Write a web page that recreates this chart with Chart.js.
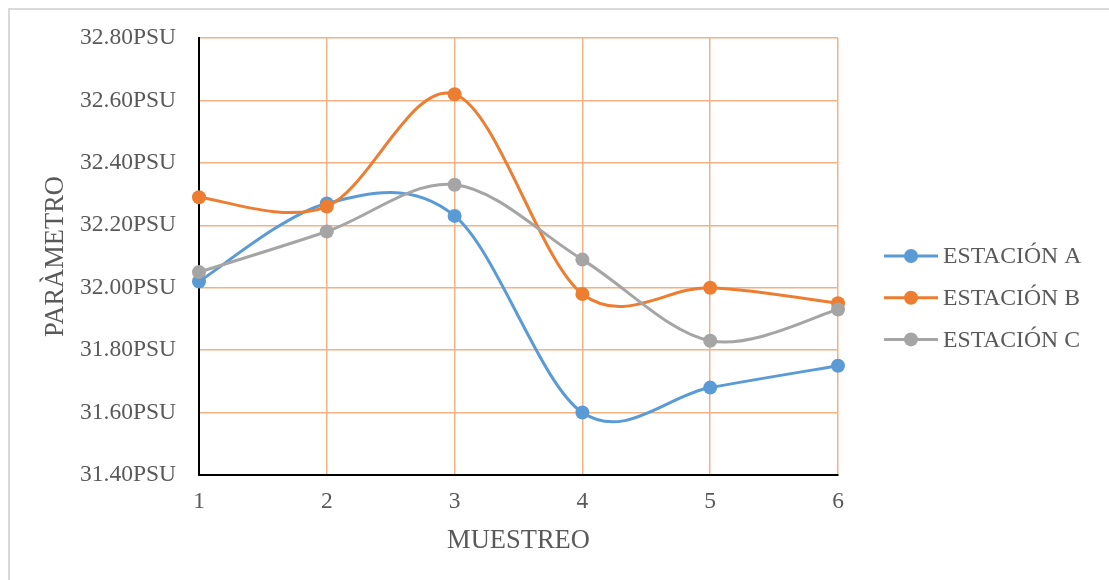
<!DOCTYPE html>
<html>
<head>
<meta charset="utf-8">
<script src="https://cdn.jsdelivr.net/npm/chart.js@4/dist/chart.umd.min.js"></script>
<style>
  html, body { margin: 0; padding: 0; background: #ffffff; }
  #wrap { width: 1109px; height: 580px; position: relative; }
</style>
</head>
<body>
<div id="wrap"><canvas id="c"></canvas></div>
<script>
// Sampling rounds (x axis)
const muestreos = [1, 2, 3, 4, 5, 6];

// Salinity per station, PSU
const estacionA = [32.02, 32.27, 32.23, 31.60, 31.68, 31.75];
const estacionB = [32.29, 32.26, 32.62, 31.98, 32.00, 31.95];
const estacionC = [32.05, 32.18, 32.33, 32.09, 31.83, 31.93];

const seriesNames = ['ESTACIÓN A', 'ESTACIÓN B', 'ESTACIÓN C'];
const seriesColors = ['#5B9BD5', '#ED7D31', '#A5A5A5'];

// Value axis tick labels
const yTicks = [31.40, 31.60, 31.80, 32.00, 32.20, 32.40, 32.60, 32.80];

const FONT = "'Liberation Serif', 'Times New Roman', serif";
const TEXT = '#595959';
const GRID = '#F4B183';

const toPoints = vals => muestreos.map((m, i) => ({ x: m, y: vals[i] }));

const makeSet = (label, vals, color, order) => ({
  label,
  data: toPoints(vals),
  borderColor: color,
  backgroundColor: color,
  borderWidth: 3,
  pointRadius: 7,
  pointHoverRadius: 7,
  pointBorderWidth: 0,
  tension: 0.4,
  fill: false,
  clip: false,
  order
});

// Spreadsheet-style smoothing: each point's Bezier handles run parallel to
// the chord between its neighbours, at one sixth of that chord.
const uniformSmooth = {
  id: 'uniformSmooth',
  beforeDatasetDraw(chart, args) {
    const line = args.meta.dataset;
    if (!line) return;
    line.updateControlPoints(chart.chartArea, 'x');
    const pts = line.points;
    const n = pts.length;
    pts.forEach((p, i) => {
      const prev = pts[Math.max(i - 1, 0)];
      const next = pts[Math.min(i + 1, n - 1)];
      const dx = (next.x - prev.x) / 6;
      const dy = (next.y - prev.y) / 6;
      p.cp1x = p.x - dx; p.cp1y = p.y - dy;
      p.cp2x = p.x + dx; p.cp2y = p.y + dy;
    });
    line._path = undefined;
  }
};

// Right-hand legend: line segment with a marker, then the series name
const sideLegend = {
  id: 'sideLegend',
  afterDraw(chart) {
    const { ctx, chartArea } = chart;
    const lineStart = chartArea.right + 46;
    const lineEnd = lineStart + 54;
    ctx.save();
    chart.data.datasets.forEach((ds, i) => {
      const y = 256 + i * 41.7;
      ctx.strokeStyle = ds.borderColor;
      ctx.lineWidth = 3;
      ctx.beginPath();
      ctx.moveTo(lineStart, y);
      ctx.lineTo(lineEnd, y);
      ctx.stroke();
      ctx.fillStyle = ds.borderColor;
      ctx.beginPath();
      ctx.arc((lineStart + lineEnd) / 2, y, 7, 0, Math.PI * 2);
      ctx.fill();
      ctx.fillStyle = TEXT;
      ctx.font = '23.7px ' + FONT;
      ctx.textAlign = 'left';
      ctx.textBaseline = 'middle';
      ctx.fillText(ds.label, lineEnd + 5, y + 1);
    });
    ctx.restore();
  }
};

// Outer frame of the chart object
const frame = {
  id: 'frame',
  beforeDraw(chart) {
    const { ctx } = chart;
    ctx.save();
    ctx.fillStyle = '#ffffff';
    ctx.fillRect(0, 0, chart.width, chart.height);
    ctx.strokeStyle = '#D9D9D9';
    ctx.lineWidth = 2;
    ctx.strokeRect(9, 9, chart.width + 20, chart.height + 20);
    ctx.restore();
  }
};

new Chart(document.getElementById('c'), {
  type: 'line',
  data: {
    datasets: [
      makeSet(seriesNames[0], estacionA, seriesColors[0], 3),
      makeSet(seriesNames[1], estacionB, seriesColors[1], 2),
      makeSet(seriesNames[2], estacionC, seriesColors[2], 1)
    ]
  },
  options: {
    responsive: true,
    maintainAspectRatio: false,
    animation: false,
    layout: { padding: { left: 0, right: 271, top: 38, bottom: 0 } },
    plugins: {
      legend: { display: false },
      tooltip: { enabled: false }
    },
    scales: {
      x: {
        type: 'linear',
        min: 1,
        max: 6,
        afterBuildTicks: s => { s.ticks = muestreos.map(v => ({ value: v })); },
        afterFit: s => { s.height = 105; },
        grid: {
          drawTicks: false,
          lineWidth: 1.5,
          color: c => (c.tick && c.tick.value === muestreos[0]) ? 'rgba(0,0,0,0)' : GRID
        },
        border: { display: true, color: '#000000', width: 2 },
        ticks: {
          padding: 13,
          color: TEXT,
          font: { family: FONT, size: 23.5 },
          callback: v => String(v)
        },
        title: {
          display: true,
          text: 'MUESTREO',
          color: TEXT,
          font: { family: FONT, size: 26.5 },
          padding: { top: 0, bottom: 23.5 }
        }
      },
      y: {
        min: yTicks[0],
        max: yTicks[yTicks.length - 1],
        afterBuildTicks: s => { s.ticks = yTicks.map(v => ({ value: v })); },
        afterFit: s => { s.width = 199; },
        grid: {
          drawTicks: false,
          lineWidth: 1.5,
          color: c => (c.tick && c.tick.value === yTicks[0]) ? 'rgba(0,0,0,0)' : GRID
        },
        border: { display: true, color: '#000000', width: 2 },
        ticks: {
          padding: 23,
          color: TEXT,
          font: { family: FONT, size: 23.5 },
          callback: v => Number(v).toFixed(2) + 'PSU'
        },
        title: {
          display: true,
          text: 'PARÀMETRO',
          color: TEXT,
          font: { family: FONT, size: 26.5 },
          padding: { top: 40, bottom: 0 }
        }
      }
    }
  },
  plugins: [frame, uniformSmooth, sideLegend]
});
</script>
</body>
</html>
